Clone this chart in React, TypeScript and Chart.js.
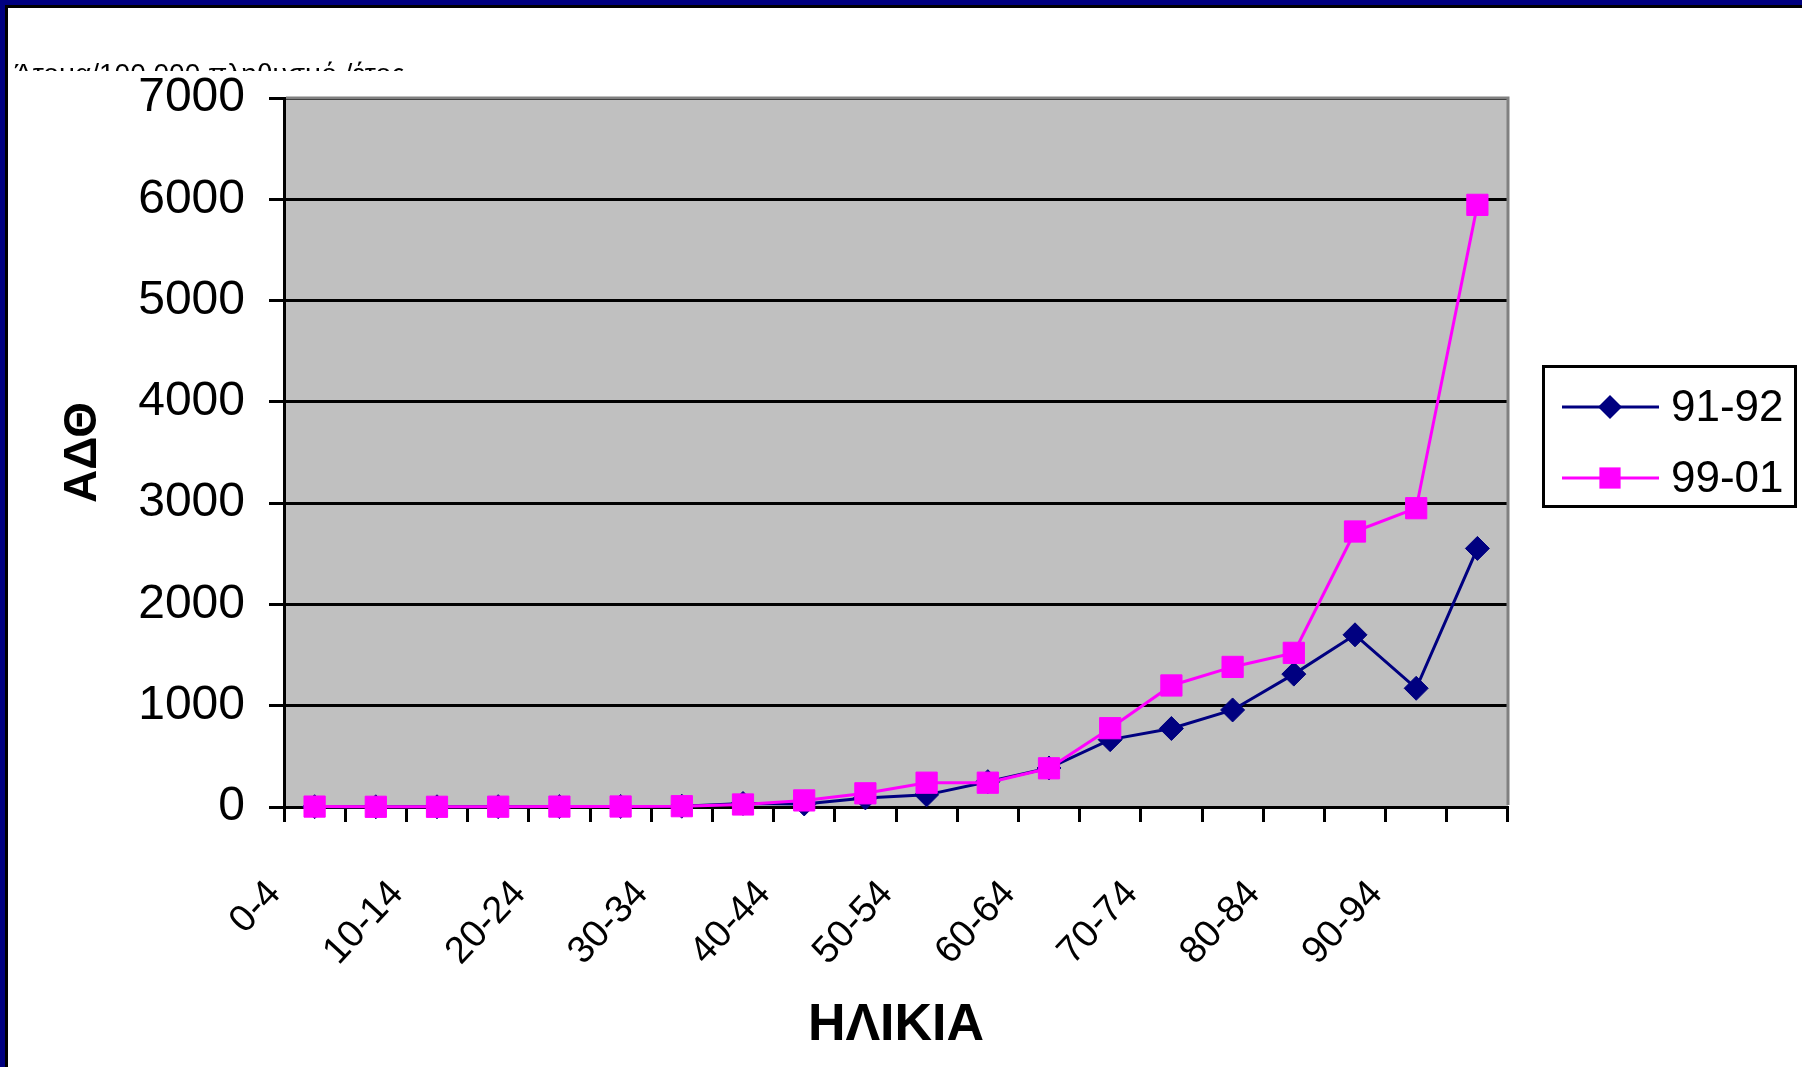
import React, { useEffect, useRef } from 'react';
import { Chart, registerables } from 'chart.js';

Chart.register(...registerables);

const categories = ['0-4', '5-9', '10-14', '15-19', '20-24', '25-29', '30-34', '35-39', '40-44', '45-49',
  '50-54', '55-59', '60-64', '65-69', '70-74', '75-79', '80-84', '85-89', '90-94', '95+'];
const series9192 = [3, 2, 2, 3, 4, 5, 8, 35, 30, 90, 120, 250, 385, 665, 775, 958, 1312, 1700, 1172, 2553];
const series9901 = [4, 2, 2, 3, 4, 5, 8, 25, 65, 135, 240, 240, 382, 778, 1200, 1383, 1522, 2720, 2950, 5945];
const seriesLabels = ['91-92', '99-01'];
const yTickValues = [0, 1000, 2000, 3000, 4000, 5000, 6000, 7000];
const yAxisTitle = 'ΑΔΘ';
const xAxisTitle = 'ΗΛΙΚΙΑ';
const noteText = 'Άτομα/100.000 πληθυσμό /έτος';

const FONT = '"Liberation Sans", Arial, Helvetica, sans-serif';
const W = 1802;
const H = 1067;

function drawMarker(ctx: CanvasRenderingContext2D, style: string, x: number, y: number, r: number) {
  ctx.beginPath();
  if (style === 'rectRot') {
    ctx.moveTo(x - r, y);
    ctx.lineTo(x, y - r);
    ctx.lineTo(x + r, y);
    ctx.lineTo(x, y + r);
    ctx.closePath();
  } else {
    const s = Math.SQRT1_2 * r;
    ctx.rect(x - s, y - s, 2 * s, 2 * s);
  }
  ctx.fill();
}

export default function App() {
  const ref = useRef<HTMLCanvasElement | null>(null);

  useEffect(() => {
    if (!ref.current) return;

    const plotBg = {
      id: 'plotBg',
      beforeDraw(chart: any) {
        const { ctx, chartArea } = chart;
        const { left, top, right, bottom } = chartArea;
        ctx.save();
        ctx.fillStyle = '#C0C0C0';
        ctx.fillRect(left, top, right - left, bottom - top);
        ctx.restore();
      },
      beforeDatasetsDraw(chart: any) {
        const { ctx, chartArea } = chart;
        const { left, top, right, bottom } = chartArea;
        ctx.save();
        ctx.strokeStyle = '#808080';
        ctx.lineWidth = 3;
        ctx.beginPath();
        ctx.moveTo(left + 2, top);
        ctx.lineTo(right, top);
        ctx.lineTo(right, bottom - 2);
        ctx.stroke();
        ctx.restore();
      },
    };

    const customLegend = {
      id: 'customLegend',
      afterDraw(chart: any) {
        const ctx: CanvasRenderingContext2D = chart.ctx;
        const bx = 1542, by = 365, bw = 255, bh = 143;
        ctx.save();
        ctx.fillStyle = '#ffffff';
        ctx.fillRect(bx, by, bw, bh);
        ctx.lineWidth = 3;
        ctx.strokeStyle = '#000000';
        ctx.strokeRect(bx + 1.5, by + 1.5, bw - 3, bh - 3);
        chart.data.datasets.forEach((ds: any, i: number) => {
          const y = by + 42 + i * 71;
          ctx.strokeStyle = ds.borderColor;
          ctx.lineWidth = ds.borderWidth;
          ctx.beginPath();
          ctx.moveTo(1562, y);
          ctx.lineTo(1659, y);
          ctx.stroke();
          ctx.fillStyle = ds.pointBackgroundColor;
          drawMarker(ctx, ds.pointStyle, 1610, y, ds.pointRadius);
          ctx.fillStyle = '#000000';
          ctx.font = `44px ${FONT}`;
          ctx.textAlign = 'left';
          ctx.textBaseline = 'middle';
          ctx.fillText(ds.label, 1671, y + 2);
        });
        ctx.restore();
      },
    };

    const chart = new Chart(ref.current, {
      type: 'line',
      data: {
        labels: categories,
        datasets: [
          {
            label: seriesLabels[0],
            data: series9192,
            borderColor: '#000080',
            backgroundColor: '#000080',
            pointBackgroundColor: '#000080',
            pointBorderColor: '#000080',
            borderWidth: 3,
            pointStyle: 'rectRot',
            pointRadius: 12,
            pointBorderWidth: 1,
            tension: 0,
            order: 1,
            clip: false as any,
          },
          {
            label: seriesLabels[1],
            data: series9901,
            borderColor: '#FF00FF',
            backgroundColor: '#FF00FF',
            pointBackgroundColor: '#FF00FF',
            pointBorderColor: '#FF00FF',
            borderWidth: 3,
            pointStyle: 'rect',
            pointRadius: 15,
            pointBorderWidth: 1,
            tension: 0,
            order: 0,
            clip: false as any,
          },
        ],
      },
      options: {
        responsive: false,
        animation: false,
        events: [],
        layout: { padding: { left: 0, right: 294, top: 98, bottom: 0 } },
        plugins: {
          legend: { display: false },
          tooltip: { enabled: false },
        },
        scales: {
          x: {
            type: 'category',
            offset: true,
            afterFit(scale: any) {
              scale.height = 260;
            },
            grid: {
              offset: true,
              drawOnChartArea: false,
              drawTicks: true,
              tickLength: 15,
              tickColor: '#000000',
              tickWidth: 3,
            },
            border: { display: true, color: '#000000', width: 3 },
            ticks: {
              autoSkip: false,
              minRotation: 47,
              maxRotation: 47,
              padding: 50,
              labelOffset: -40,
              color: '#000000',
              font: { family: FONT, size: 38 },
              callback: (_v: any, index: number) => (index % 2 === 0 ? categories[index] : ''),
            },
            title: {
              display: true,
              text: xAxisTitle,
              color: '#000000',
              font: { family: FONT, size: 52, weight: 'bold' },
              padding: { top: 0, bottom: 10 },
            },
          },
          y: {
            min: yTickValues[0],
            max: yTickValues[yTickValues.length - 1],
            afterFit(scale: any) {
              scale.width = 284;
            },
            afterBuildTicks(scale: any) {
              scale.ticks = yTickValues.map((v) => ({ value: v }));
            },
            grid: {
              color: '#000000',
              lineWidth: 3,
              drawTicks: true,
              tickLength: 15,
              tickColor: '#000000',
              tickWidth: 3,
            },
            border: { display: true, color: '#000000', width: 3 },
            ticks: {
              padding: 24,
              color: '#000000',
              font: { family: FONT, size: 48 },
              callback: (v: any) => String(v),
            },
            title: {
              display: true,
              text: yAxisTitle,
              color: '#000000',
              font: { family: FONT, size: 46, weight: 'bold' },
              padding: { top: 56, bottom: 0 },
            },
          },
        },
      },
      plugins: [plotBg, customLegend],
    } as any);

    return () => chart.destroy();
  }, []);

  return (
    <div style={{ position: 'absolute', left: 0, top: 0, width: W, height: H, background: '#ffffff', overflow: 'hidden' }}>
      <canvas ref={ref} width={W} height={H} style={{ position: 'absolute', left: 0, top: 0, width: W, height: H }} />
      <div
        style={{
          position: 'absolute',
          left: 14,
          top: 60,
          height: 11,
          overflow: 'hidden',
          whiteSpace: 'nowrap',
          fontFamily: FONT,
          fontSize: 28,
          lineHeight: '28px',
          color: '#000000',
        }}
      >
        {noteText}
      </div>
      <div style={{ position: 'absolute', left: 0, top: 0, width: W, height: 5, background: '#000080' }} />
      <div style={{ position: 'absolute', left: 0, top: 5, width: W, height: 3, background: '#000000' }} />
      <div style={{ position: 'absolute', left: 0, top: 0, width: 5, height: H, background: '#000080' }} />
      <div style={{ position: 'absolute', left: 5, top: 5, width: 3, height: H - 5, background: '#000000' }} />
    </div>
  );
}
